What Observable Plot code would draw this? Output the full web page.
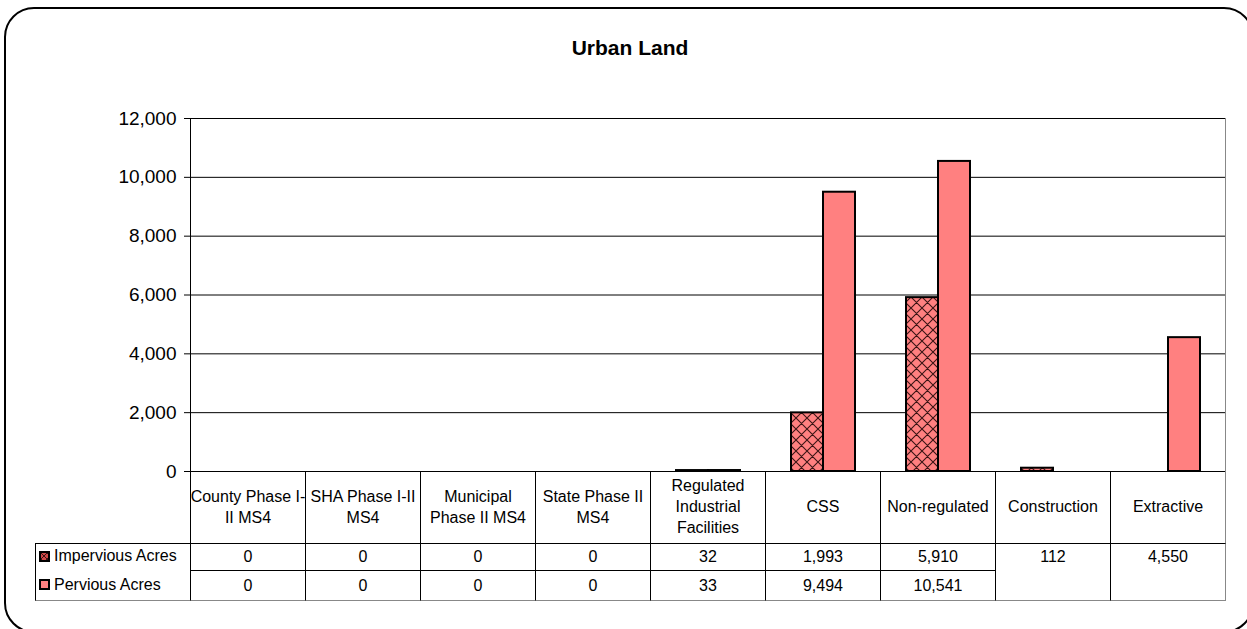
<!DOCTYPE html>
<html>
<head>
<meta charset="utf-8">
<script src="https://cdn.jsdelivr.net/npm/d3@7"></script>
<script src="https://cdn.jsdelivr.net/npm/@observablehq/plot@0.6"></script>
<style>
  html, body { margin: 0; padding: 0; background: #fff; overflow: hidden; }
  body { width: 1247px; height: 629px; position: relative; font-family: "Liberation Sans", Arial, sans-serif; color: #000; }
  #frame { position: absolute; left: 4px; top: 7px; width: 1250px; height: 626px; border: 2px solid #000; border-radius: 30px; box-sizing: border-box; }
  #title { position: absolute; top: 38px; left: 630px; transform: translateX(-50%); font-weight: bold; font-size: 21px; line-height: 20px; white-space: nowrap; }
  #chart { position: absolute; left: 0; top: 0; }
  #table { position: absolute; left: 0; top: 0; font-size: 16px; }
  .cell { position: absolute; box-sizing: border-box; text-align: center; white-space: pre; display: flex; align-items: center; justify-content: center; line-height: 21px; }
  .legend { position: absolute; box-sizing: border-box; white-space: nowrap; display: flex; align-items: center; }
  .key { display: inline-block; width: 11px; height: 11px; box-sizing: border-box; border: 2px solid #000; margin-left: 4px; margin-right: 4px; }
</style>
</head>
<body>
<svg width="0" height="0" style="position:absolute">
  <defs>
    <pattern id="hatch" patternUnits="userSpaceOnUse" width="11" height="11">
      <rect width="11" height="11" fill="#FF8080"></rect>
      <path d="M0,0L11,11M11,0L0,11M-1,10L1,12M10,-1L12,1M-1,1L1,-1M10,12L12,10" stroke="#3a1414" stroke-width="1.1"></path>
    </pattern>
    <pattern id="hatchKey" patternUnits="userSpaceOnUse" width="6" height="6">
      <rect width="6" height="6" fill="#d04848"></rect>
      <path d="M0,0L6,6M6,0L0,6" stroke="#3a1414" stroke-width="1"></path>
    </pattern>
  </defs>
</svg>
<div id="frame"></div>
<div id="title">Urban Land</div>
<div id="chart"></div>
<div id="table"></div>
<script>
// ---- data ----
const categories = ["County Phase I-II MS4", "SHA Phase I-II MS4", "Municipal Phase II MS4", "State Phase II MS4", "Regulated Industrial Facilities", "CSS", "Non-regulated", "Construction", "Extractive"];
const categoryLabels = ["County Phase I-\nII MS4", "SHA Phase I-II\nMS4", "Municipal\nPhase II MS4", "State Phase II\nMS4", "Regulated\nIndustrial\nFacilities", "CSS", "Non-regulated", "Construction", "Extractive"];
const seriesNames = ["Impervious Acres", "Pervious Acres"];
const imperviousAcres = [0, 0, 0, 0, 32, 1993, 5910, 112, 0];
const perviousAcres = [0, 0, 0, 0, 33, 9494, 10541, 0, 4550];
const mergedCategories = ["Construction", "Extractive"];
const yTicks = [0, 2000, 4000, 6000, 8000, 10000, 12000];

const rows = categories.flatMap((c, i) => [
  {category: c, series: seriesNames[0], value: imperviousAcres[i]},
  {category: c, series: seriesNames[1], value: perviousAcres[i]}
]);
const fmt = d3.format(",");

const chart = Plot.plot({
  width: 1247,
  height: 629,
  marginTop: 118,
  marginBottom: 158,
  marginLeft: 189,
  marginRight: 22,
  style: {fontFamily: "Liberation Sans, Arial, sans-serif", background: "transparent", overflow: "visible"},
  fx: {domain: categories, padding: 0, axis: null, label: null},
  x: {domain: seriesNames, paddingInner: 0, paddingOuter: 0.75, axis: null},
  y: {domain: [0, 12000], label: null},
  marks: [
    Plot.ruleY(yTicks, {stroke: "#000", strokeWidth: 1}),
    Plot.barY(rows.filter(d => d.series === seriesNames[0]), {fx: "category", x: "series", y: "value", fill: "url(#hatch)", stroke: "#000", strokeWidth: 2}),
    Plot.barY(rows.filter(d => d.series === seriesNames[1]), {fx: "category", x: "series", y: "value", fill: "#FF8080", stroke: "#000", strokeWidth: 2}),
    Plot.frame({anchor: "left", facetAnchor: "left", stroke: "#000"}),
    Plot.frame({anchor: "right", facetAnchor: "right", stroke: "#888"}),
    Plot.axisY({ticks: yTicks, tickFormat: fmt, tickSize: 6, tickPadding: 8, fontSize: 19, label: null, stroke: "#000", fill: "#000"})
  ]
});
document.getElementById("chart").appendChild(chart);

// ---- data table below the chart, aligned on the fx scale ----
const fx = chart.scale("fx");
const y = chart.scale("y");
const table = document.getElementById("table");
const bw = fx.bandwidth;
const top0 = y.apply(0);
const headerH = 71.5, row1H = 27, row2H = 30;
const r1Top = top0 + headerH, r2Top = r1Top + row1H;
const legendLeft = 35;

function addCell(cls, left, top, width, height, text, style) {
  const el = document.createElement("div");
  el.className = cls;
  Object.assign(el.style, {left: left + "px", top: top + "px", width: width + "px", height: height + "px"}, style || {});
  if (text != null) el.textContent = text;
  table.appendChild(el);
  return el;
}

categories.forEach((c, i) => {
  const left = fx.apply(c);
  const last = i === categories.length - 1;
  const rb = last ? "1px solid #888" : "none";
  addCell("cell", left, top0, bw + (last ? 1 : 0), headerH, categoryLabels[i], {borderLeft: "1px solid #000", borderRight: rb});
  if (mergedCategories.includes(c)) {
    addCell("cell", left, r1Top, bw + (last ? 1 : 0), row1H + row2H + 1, fmt(imperviousAcres[i] + perviousAcres[i]),
      {borderLeft: "1px solid #000", borderTop: "1px solid #000", borderBottom: "1px solid #888", borderRight: rb, alignItems: "flex-start", paddingTop: "2px"});
  } else {
    addCell("cell", left, r1Top, bw, row1H, fmt(imperviousAcres[i]), {borderLeft: "1px solid #000", borderTop: "1px solid #000"});
    addCell("cell", left, r2Top, bw, row2H + 1, fmt(perviousAcres[i]), {borderLeft: "1px solid #000", borderTop: "1px solid #000", borderBottom: "1px solid #888"});
  }
});

// legend column
const legendW = fx.apply(categories[0]) - legendLeft;
addCell("legend", legendLeft, r1Top, legendW, row1H + row2H + 1, null, {border: "1px solid #000", borderRight: "none", borderBottomColor: "#888"});
const l1 = addCell("legend", legendLeft, r1Top, legendW, row1H, null, {});
l1.innerHTML = '<span class="key"><svg width="7" height="7" style="display:block"><rect width="7" height="7" fill="url(#hatchKey)"></rect></svg></span>';
l1.appendChild(document.createTextNode(seriesNames[0]));
const l2 = addCell("legend", legendLeft, r2Top, legendW, row2H, null, {});
l2.innerHTML = '<span class="key" style="background:#FF8080"></span>';
l2.appendChild(document.createTextNode(seriesNames[1]));
</script>
</body>
</html>
